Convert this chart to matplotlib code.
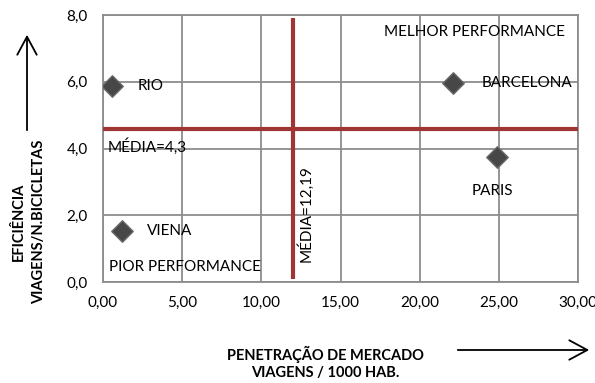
import matplotlib
matplotlib.use("Agg")
import matplotlib.pyplot as plt

cities = ["RIO", "BARCELONA", "PARIS", "VIENA"]
penetracao = [0.57, 22.1, 24.9, 1.2]
eficiencia = [5.87, 5.96, 3.74, 1.53]
media_x = 12.0
media_y = 4.58
xticks = [0, 5, 10, 15, 20, 25, 30]
xtick_labels = ["0,00", "5,00", "10,00", "15,00", "20,00", "25,00", "30,00"]
yticks = [0, 2, 4, 6, 8]
ytick_labels = ["0,0", "2,0", "4,0", "6,0", "8,0"]

plt.rcParams['font.family'] = ['Lato', 'DejaVu Sans']

fig = plt.figure(figsize=(5.95, 3.83), dpi=100)
ax = fig.add_axes([103/595, 1-282/383, 475/595, 267/383])
ax.set_xlim(0, 30)
ax.set_ylim(0, 8)
ax.set_xticks(xticks)
ax.set_xticklabels(xtick_labels, fontsize=11)
ax.set_yticks(yticks)
ax.set_yticklabels(ytick_labels, fontsize=11)
ax.tick_params(axis='x', length=0, pad=10)
ax.tick_params(axis='y', length=0, pad=11)
ax.grid(True, color='#8c8c8c', linewidth=1.3)
ax.set_axisbelow(True)
for s in ax.spines.values():
    s.set_color('#8c8c8c')
    s.set_linewidth(1.3)

ax.axhline(media_y, color='#a03535', lw=3, zorder=3)
ax.plot([media_x, media_x], [0.1, 7.9], color='#a03535', lw=3, zorder=3, solid_capstyle='butt')

ax.scatter(penetracao, eficiencia, marker='D', s=120, color='#474747', edgecolor='#6a6a6a', lw=1, zorder=4)

offsets = {"RIO": (1.6, 0, 'left', 'center'),
           "BARCELONA": (1.8, 0, 'left', 'center'),
           "PARIS": (-1.6, -1.0, 'left', 'center'),
           "VIENA": (1.6, 0, 'left', 'center')}
for c, x, y in zip(cities, penetracao, eficiencia):
    dx, dy, ha, va = offsets[c]
    ax.text(x + dx, y + dy, c, ha=ha, va=va, fontsize=11, zorder=5)

ax.text(29.2, 7.5, "MELHOR PERFORMANCE", ha='right', va='center', fontsize=11)
ax.text(0.4, 0.45, "PIOR PERFORMANCE", ha='left', va='center', fontsize=11)
ax.text(0.3, 4.05, "MÉDIA=4,3", ha='left', va='center', fontsize=11)
ax.text(12.8, 2.05, "MÉDIA=12,19", ha='center', va='center', rotation=90, fontsize=11)

fig.text(19/595, 1-222/383, "EFICIÊNCIA", rotation=90, ha='center', va='center', fontsize=10.5, fontweight='bold')
fig.text(39/595, 1-222/383, "VIAGENS/N.BICICLETAS", rotation=90, ha='center', va='center', fontsize=10.5, fontweight='bold')
fig.text(325/595, 1-354/383, "PENETRAÇÃO DE MERCADO", ha='center', va='center', fontsize=10.5, fontweight='bold')
fig.text(325/595, 1-373/383, "VIAGENS / 1000 HAB.", ha='center', va='center', fontsize=10.5, fontweight='bold')

fig.patches.append(matplotlib.patches.FancyArrowPatch((27/595, 1-133/383), (27/595, 1-32/383),
    transform=fig.transFigure, arrowstyle='->,head_length=13,head_width=7', color='black', lw=1.3, mutation_scale=1))
fig.patches.append(matplotlib.patches.FancyArrowPatch((455/595, 1-350/383), (592/595, 1-350/383),
    transform=fig.transFigure, arrowstyle='->,head_length=13,head_width=7', color='black', lw=1.3, mutation_scale=1))

fig.savefig("out.png", dpi=100)
